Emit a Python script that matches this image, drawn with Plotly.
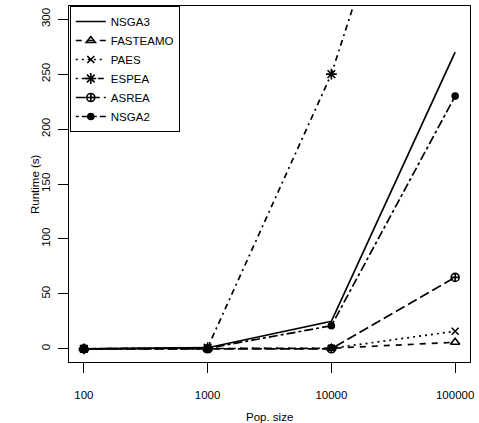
import plotly.graph_objects as go

# Данные: время работы (с) в зависимости от размера популяции
pop_sizes = [100, 1000, 10000, 100000]
tick_labels = ["100", "1000", "10000", "100000"]

nsga3 = [0, 1, 25, 270]
fasteamo = [0, 0, 0.5, 6]
paes = [0, 0, 0.5, 16]
espea = [0, 1, 250, 600]
asrea = [0, 0, 0, 65]
nsga2 = [0, 0.5, 21, 230]

series = [
    ("NSGA3", nsga3, "solid", None, 0),
    ("FASTEAMO", fasteamo, "6px,6px", "triangle-up-open", 8),
    ("PAES", paes, "2px,4px", "x-thin-open", 7),
    ("ESPEA", espea, "2px,4px,6px,4px", "asterisk-open", 9),
    ("ASREA", asrea, "10px,4px", "circle-cross-open", 8),
    ("NSGA2", nsga2, "3px,3px,9px,3px", "circle", 6),
]

fig = go.Figure()

for name, vals, dash, symbol, size in series:
    if symbol is None:
        fig.add_trace(go.Scatter(
            x=pop_sizes, y=vals, name=name, mode="lines",
            line=dict(color="black", width=1.7, dash=dash),
        ))
    else:
        fig.add_trace(go.Scatter(
            x=pop_sizes, y=vals, name=name, mode="lines+markers",
            line=dict(color="black", width=1.7, dash=dash),
            marker=dict(symbol=symbol, size=size, color="black",
                        line=dict(color="black", width=1.6)),
        ))

font = dict(family="Liberation Sans, Arial, sans-serif", size=11.5, color="black")

fig.update_layout(
    width=479, height=423,
    margin=dict(l=69, r=9, t=6, b=61, autoexpand=False),
    plot_bgcolor="white", paper_bgcolor="white",
    font=font,
    showlegend=True,
    legend=dict(
        x=0.002, y=1, xanchor="left", yanchor="top",
        bordercolor="black", borderwidth=1, bgcolor="white",
        font=dict(family="Liberation Sans, Arial, sans-serif", size=11.5, color="black"),
        tracegroupgap=0, itemwidth=30,
    ),
    xaxis=dict(
        type="log", range=[1.88, 5.12],
        tickvals=pop_sizes, ticktext=tick_labels,
        ticks="outside", ticklen=10, tickcolor="black",
        ticklabelstandoff=12,
        showline=True, mirror=True, linecolor="black", linewidth=1,
        showgrid=False, zeroline=False,
    ),
    yaxis=dict(
        range=[-12, 312],
        tickvals=[0, 50, 100, 150, 200, 250, 300],
        tickangle=-90,
        ticks="outside", ticklen=10, tickcolor="black",
        ticklabelstandoff=3,
        showline=True, mirror=True, linecolor="black", linewidth=1,
        showgrid=False, zeroline=False,
    ),
    annotations=[
        dict(text="Pop. size", xref="paper", yref="paper", x=0.5, y=0,
             yshift=-55, showarrow=False, xanchor="center", yanchor="middle"),
        dict(text="Runtime (s)", xref="paper", yref="paper", x=0, y=0.5,
             xshift=-34, showarrow=False, textangle=-90,
             xanchor="center", yanchor="middle"),
    ],
)

# убираем отступ body, чтобы график начинался в левом верхнем углу окна
fig.write_html("out.html", config={"displayModeBar": False},
               post_script="document.body.style.margin='0px';")
